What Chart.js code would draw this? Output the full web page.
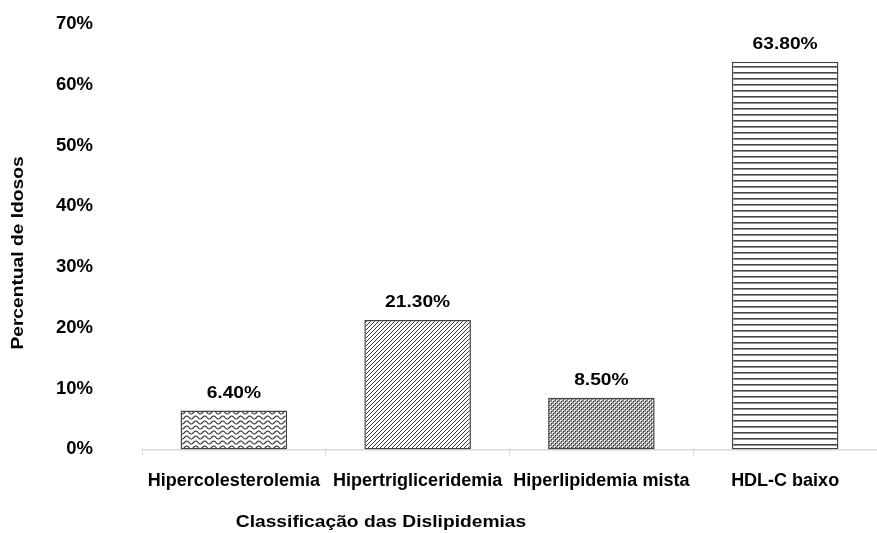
<!DOCTYPE html>
<html>
<head>
<meta charset="utf-8">
<script src="https://cdn.jsdelivr.net/npm/chart.js@4"></script>
<style>
  html, body { margin: 0; padding: 0; background: #fff; }
  #wrap { width: 877px; height: 533px; }
</style>
</head>
<body>
<div id="wrap"><canvas id="bar-chart"></canvas></div>
<script>
const categories = ["Hipercolesterolemia", "Hipertrigliceridemia", "Hiperlipidemia mista", "HDL-C baixo"];
const percents = [6.4, 21.3, 8.5, 63.8];
const yTicks = [0, 10, 20, 30, 40, 50, 60, 70];
const xTitle = "Classificação das Dislipidemias";
const yTitle = "Percentual de Idosos";

const FONT = "'Liberation Sans', Arial, sans-serif";
const STRETCH = 1.13; // the original text is a bit wide

// little tiles for the hatch fills
function makePattern(kind) {
    const c = document.createElement('canvas');
    const ctx = c.getContext('2d');
    let w = 8, h = 8;
    if (kind === 'wave') { w = 9; h = 5; }
    if (kind === 'diag') { w = 4; h = 4; }
    if (kind === 'cross') { w = 4; h = 4; }
    if (kind === 'hline') { w = 8; h = 6; }
    c.width = w; c.height = h;
    ctx.fillStyle = '#fff';
    ctx.fillRect(0, 0, w, h);
    ctx.strokeStyle = '#333';
    if (kind === 'wave') {
        ctx.lineWidth = 1.1;
        ctx.beginPath();
        for (let x = 0; x <= w; x += 0.5) {
            const y = 2.5 + 1.5 * Math.sin(x / w * Math.PI * 2);
            if (x === 0) ctx.moveTo(x, y); else ctx.lineTo(x, y);
        }
        ctx.stroke();
    } else if (kind === 'diag') {
        ctx.lineWidth = 1;
        ctx.beginPath();
        ctx.moveTo(-1, 5); ctx.lineTo(5, -1);
        ctx.moveTo(-1, 1); ctx.lineTo(1, -1);
        ctx.moveTo(3, 5); ctx.lineTo(5, 3);
        ctx.stroke();
    } else if (kind === 'cross') {
        ctx.fillStyle = '#888';
        ctx.fillRect(0, 0, w, h);
        ctx.fillStyle = '#fff';
        ctx.fillRect(0, 0, 1, 1);
        ctx.fillRect(2, 2, 1, 1);
        ctx.fillStyle = '#ddd';
        ctx.fillRect(1, 0, 1, 1);
        ctx.fillRect(0, 1, 1, 1);
        ctx.fillRect(3, 2, 1, 1);
        ctx.fillRect(2, 3, 1, 1);
        ctx.fillStyle = '#333';
        ctx.fillRect(1, 1, 1, 1);
        ctx.fillRect(3, 3, 1, 1);
    } else if (kind === 'hline') {
        ctx.fillStyle = '#444';
        ctx.fillRect(0, 0, w, 1.6);
    }
    return ctx.createPattern(c, 'repeat');
}

const fills = [makePattern('wave'), makePattern('diag'), makePattern('cross'), makePattern('hline')];

function wideText(ctx, text, x, y, rot) {
    ctx.save();
    ctx.translate(x, y);
    if (rot) ctx.rotate(rot);
    ctx.scale(STRETCH, 1);
    ctx.fillText(text, 0, 0);
    ctx.restore();
}

// value labels above bars + axis titles placed like the original
const extras = {
    id: 'extras',
    afterDatasetsDraw(chart) {
        const ctx = chart.ctx;
        const meta = chart.getDatasetMeta(0);
        ctx.save();
        ctx.fillStyle = '#000';
        ctx.font = "bold 17px " + FONT;
        ctx.textAlign = 'center';
        ctx.textBaseline = 'alphabetic';
        meta.data.forEach(function (bar, i) {
            wideText(ctx, percents[i].toFixed(2) + '%', bar.x, bar.y - 13);
        });
        const area = chart.chartArea;
        wideText(ctx, xTitle, area.left + 239, 527);
        ctx.textBaseline = 'middle';
        wideText(ctx, yTitle, 18, 253, -Math.PI / 2);
        ctx.restore();
    }
};

const ctx = document.getElementById('bar-chart').getContext('2d');
window.myBarChart = new Chart(ctx, {
    type: 'bar',
    data: {
        labels: categories,
        datasets: [{
            data: percents,
            backgroundColor: fills,
            borderColor: '#444',
            borderWidth: 1.5,
            borderSkipped: false,
            categoryPercentage: 0.58,
            barPercentage: 1.0
        }]
    },
    options: {
        responsive: true,
        maintainAspectRatio: false,
        animation: false,
        layout: { padding: { left: 0, right: 0, top: 24, bottom: 26 } },
        plugins: {
            legend: { display: false },
            tooltip: { enabled: false }
        },
        scales: {
            x: {
                afterFit(axis) { axis.paddingLeft = 0; axis.paddingRight = 0; },
                grid: { drawOnChartArea: false, drawTicks: true, tickLength: 6, color: '#d9d9d9', offset: true },
                border: { color: '#d9d9d9', width: 1.5 },
                ticks: {
                    color: '#000', padding: 15, autoSkip: false, maxRotation: 0,
                    font: { family: FONT, size: 18, weight: 'bold' }
                }
            },
            y: {
                min: 0,
                max: 70,
                afterBuildTicks(axis) {
                    axis.ticks = yTicks.map(v => ({ value: v }));
                },
                afterFit(axis) {
                    axis.width = 142;
                    axis.paddingTop = 0;
                    axis.paddingBottom = 0;
                },
                grid: { display: false },
                border: { display: false },
                ticks: {
                    color: '#000',
                    padding: 41,
                    font: { family: FONT, size: 18.5, weight: 'bold' },
                    callback: v => v + '%'
                }
            }
        }
    },
    plugins: [extras]
});
</script>
</body>
</html>
